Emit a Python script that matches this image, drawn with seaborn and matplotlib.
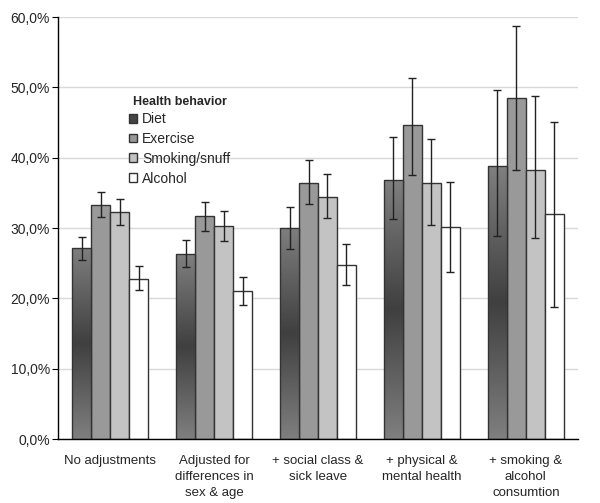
import numpy as np
import pandas as pd
import seaborn as sns
import matplotlib.pyplot as plt
from matplotlib.ticker import FuncFormatter

# data (percent)
groups = ["No adjustments", "Adjusted for\ndifferences in\nsex & age",
          "+ social class &\nsick leave", "+ physical &\nmental health",
          "+ smoking &\nalcohol\nconsumtion"]
behaviors = ["Diet", "Exercise", "Smoking/snuff", "Alcohol"]

diet = [27.2, 26.3, 30.0, 36.9, 38.8]
exercise = [33.3, 31.7, 36.4, 44.6, 48.5]
smoking = [32.3, 30.3, 34.4, 36.4, 38.2]
alcohol = [22.8, 21.1, 24.8, 30.1, 32.0]

diet_lo = [25.5, 24.5, 27.1, 31.3, 28.9]
diet_hi = [28.8, 28.3, 33.0, 43.0, 49.6]
exercise_lo = [31.6, 29.6, 33.4, 37.6, 38.3]
exercise_hi = [35.1, 33.7, 39.7, 51.4, 58.7]
smoking_lo = [30.5, 28.2, 31.4, 30.5, 28.6]
smoking_hi = [34.1, 32.4, 37.7, 42.6, 48.8]
alcohol_lo = [21.2, 19.1, 21.9, 23.7, 18.8]
alcohol_hi = [24.6, 23.1, 27.7, 36.5, 45.1]

colors = ["#5a5a5a", "#999999", "#c3c3c3", "#ffffff"]

values = [diet, exercise, smoking, alcohol]
lows = [diet_lo, exercise_lo, smoking_lo, alcohol_lo]
highs = [diet_hi, exercise_hi, smoking_hi, alcohol_hi]

rows = []
for b, vals in zip(behaviors, values):
    for g, v in zip(groups, vals):
        rows.append({"group": g, "behavior": b, "value": v})
df = pd.DataFrame(rows)

sns.set_style("white")
plt.rcParams["font.family"] = ["Liberation Sans", "DejaVu Sans"]

fig = plt.figure(figsize=(6, 5.03), dpi=100)
ax = fig.add_axes([0.097, 0.127, 0.866, 0.839])

sns.barplot(data=df, x="group", y="value", hue="behavior", hue_order=behaviors,
            order=groups, palette=colors, width=0.73, edgecolor="#333333",
            linewidth=1.0, errorbar=None, ax=ax, zorder=2)

# gradient fill for Diet bars + error bars
grad = np.abs(np.linspace(-1, 1, 256))[:, None]
bar_conts = list(ax.containers)
for i, cont in enumerate(bar_conts):
    for j, p in enumerate(cont.patches):
        x = p.get_x() + p.get_width() / 2
        h = p.get_height()
        if i == 0:
            im = ax.imshow(grad, cmap="gray", vmin=-1.0, vmax=3.0, aspect="auto",
                           extent=[p.get_x(), p.get_x() + p.get_width(), 0, h],
                           zorder=2.1, interpolation="bilinear")
            im.set_clip_path(p)
            p.set_facecolor("none")
            p.set_zorder(2.2)
        lo = h - lows[i][j]
        hi = highs[i][j] - h
        ax.errorbar(x, h, yerr=[[lo], [hi]], fmt="none", ecolor="#222222",
                    elinewidth=1.0, capsize=3, capthick=1.0, zorder=3)

ax.set_xlim(-0.5, 4.5)
ax.set_ylim(0, 60)
ax.set_yticks(np.arange(0, 61, 10))
ax.yaxis.set_major_formatter(FuncFormatter(lambda v, _: f"{v:.1f}%".replace(".", ",")))
ax.grid(axis="y", color="#d9d9d9", linewidth=1.0, zorder=0)
ax.set_axisbelow(True)
ax.set_xlabel("")
ax.set_ylabel("")
for s in ["top", "right"]:
    ax.spines[s].set_visible(False)
for s in ["left", "bottom"]:
    ax.spines[s].set_color("black")
    ax.spines[s].set_linewidth(1.0)
ax.tick_params(axis="y", left=True, length=4, color="black", labelsize=10, pad=2)
ax.tick_params(axis="x", bottom=False, labelsize=9.5, pad=8)
for t in ax.get_xticklabels():
    t.set_linespacing(1.45)

leg = ax.legend(title="Health behavior", loc="upper left",
                bbox_to_anchor=(0.112, 0.843), frameon=False, fontsize=10,
                handlelength=0.6, handleheight=0.6, handletextpad=0.35,
                labelspacing=0.42)
leg._legend_box.sep = 3
leg.get_title().set_fontweight("bold")
leg.get_title().set_fontsize(9)
for h in leg.legend_handles:
    h.set_edgecolor("#333333")
leg.legend_handles[0].set_facecolor("#444444")

fig.savefig("out.png", dpi=100)
